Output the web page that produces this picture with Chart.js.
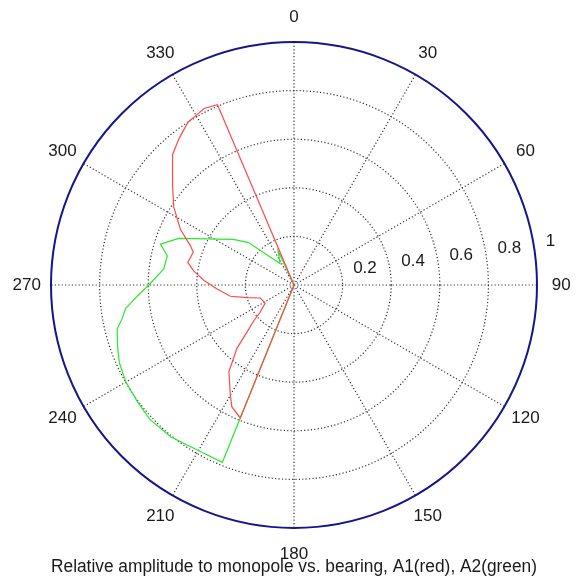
<!DOCTYPE html>
<html>
<head>
<meta charset="utf-8">
<script src="https://cdn.jsdelivr.net/npm/chart.js@4"></script>
<style>
  html, body { margin: 0; padding: 0; background: #fff; }
  #wrap { width: 576px; height: 580px; }
</style>
</head>
<body>
<div id="wrap"><canvas id="polarChart" width="576" height="580"></canvas></div>
<script>
// bearing (deg) and relative amplitude
const redBearing = [202, 207, 210, 217, 219, 222, 225, 229, 231, 238, 249, 255, 260, 267, 273, 278, 282, 288, 291, 296, 303, 309, 317, 322, 327, 330, 333, 337];
const redAmp     = [0.59, 0.563, 0.524, 0.445, 0.40, 0.352, 0.274, 0.212, 0.18, 0.14, 0.149, 0.200, 0.266, 0.317, 0.372, 0.417, 0.447, 0.436, 0.458, 0.52, 0.59, 0.643, 0.733, 0.767, 0.80, 0.806, 0.815, 0.806];

const greenBearing = [202, 209, 219, 227, 233, 240, 246, 251, 256, 259, 262, 266, 270, 277, 283, 287, 292, 307, 313, 327, 335];
const greenAmp     = [0.787, 0.786, 0.805, 0.811, 0.804, 0.799, 0.787, 0.768, 0.75, 0.72, 0.70, 0.646, 0.597, 0.54, 0.535, 0.575, 0.512, 0.312, 0.256, 0.106, 0.155];

const angleTicks = [0, 30, 60, 90, 120, 150, 180, 210, 240, 270, 300, 330];
const radiusTicks = [0.2, 0.4, 0.6, 0.8, 1];
const radiusTickLabels = ["0.2", "0.4", "0.6", "0.8", "1"];

const degrees = Array.from({ length: 360 }, (_, i) => i);

// place readings on a 1-degree radar, null in between (spanGaps joins them),
// and a zero on each side so the trace runs back to the origin
function toRadar(bearing, amp) {
  const data = new Array(360).fill(null);
  bearing.forEach((b, i) => { data[b] = amp[i]; });
  data[bearing[0] - 1] = 0;
  data[bearing[bearing.length - 1] + 1] = 0;
  return data;
}

const fontFamily = '"Liberation Sans", Arial, sans-serif';
const labelFont = "17px " + fontFamily;
const gridColor = "#333";
const gridDash = [1.2, 2.2];

const polarText = {
  id: "polarText",
  afterDraw(chart) {
    const s = chart.scales.r;
    const ctx = chart.ctx;
    ctx.save();
    ctx.font = labelFont;
    ctx.fillStyle = "#1a1a1a";
    ctx.textAlign = "center";
    ctx.textBaseline = "middle";
    angleTicks.forEach(a => {
      const p = s.getPointPosition(a, s.drawingArea * 1.1);
      ctx.fillText(String(a), p.x, p.y + (a === 180 ? 2 : 0));
    });
    ctx.textAlign = "left";
    ctx.textBaseline = "alphabetic";
    radiusTicks.forEach((v, i) => {
      const p = s.getPointPosition(82, s.getDistanceFromCenterForValue(v));
      ctx.fillText(radiusTickLabels[i], p.x + 11, p.y - 5);
    });
    ctx.restore();
  }
};

const isOuter = ctx => ctx.tick && ctx.tick.value === 1;

new Chart(document.getElementById("polarChart"), {
  type: "radar",
  data: {
    labels: degrees,
    datasets: [
      {
        label: "A1",
        data: toRadar(redBearing, redAmp),
        borderColor: "#ff4a4a",
        borderWidth: 1.2,
        fill: false,
        pointRadius: 0,
        spanGaps: true,
        tension: 0
      },
      {
        label: "A2",
        data: toRadar(greenBearing, greenAmp),
        borderColor: "#2ee62e",
        borderWidth: 1.2,
        fill: false,
        pointRadius: 0,
        spanGaps: true,
        tension: 0
      }
    ]
  },
  options: {
    responsive: false,
    animation: false,
    events: [],
    layout: { padding: { left: 51, right: 39, top: 42, bottom: 0 } },
    plugins: {
      legend: { display: false },
      tooltip: { enabled: false },
      title: {
        display: true,
        position: "bottom",
        text: "Relative amplitude to monopole vs. bearing, A1(red), A2(green)",
        color: "#1a1a1a",
        font: { family: fontFamily, size: 17.5, weight: "normal", lineHeight: 1.2 },
        padding: { top: 28.5, bottom: 2.5 }
      }
    },
    scales: {
      r: {
        min: 0,
        max: 1,
        ticks: { stepSize: 0.2, display: false },
        pointLabels: { display: false },
        grid: {
          circular: true,
          color: ctx => isOuter(ctx) ? "#16168a" : gridColor,
          lineWidth: ctx => isOuter(ctx) ? 2 : 1.2,
          borderDash: ctx => isOuter(ctx) ? [] : gridDash
        },
        border: {
          dash: ctx => isOuter(ctx) ? [] : gridDash
        },
        angleLines: {
          color: ctx => ctx.index % 30 === 0 ? gridColor : "transparent",
          lineWidth: ctx => ctx.index % 30 === 0 ? 1.2 : 0,
          borderDash: gridDash
        }
      }
    }
  },
  plugins: [polarText]
});
</script>
</body>
</html>
